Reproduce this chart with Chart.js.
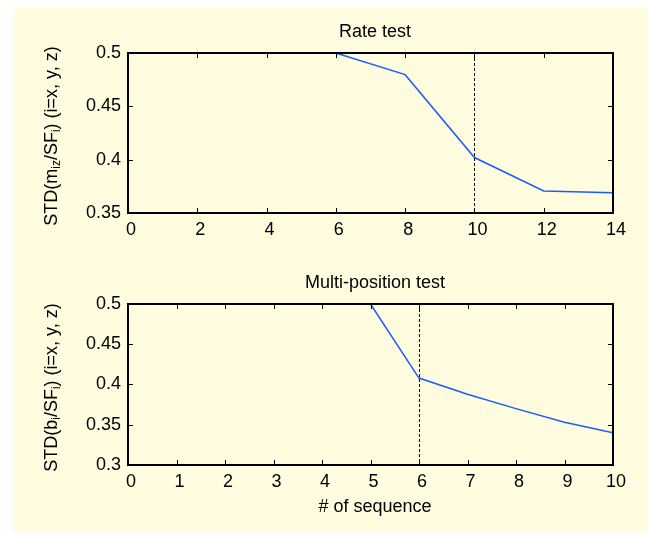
<!DOCTYPE html>
<html>
<head>
<meta charset="utf-8">
<script src="https://cdn.jsdelivr.net/npm/chart.js@4"></script>
<style>
  html, body { margin: 0; padding: 0; background: #fff; }
  body { width: 648px; height: 533px; position: relative; overflow: hidden; }
  #paper { position: absolute; left: 13px; top: 7px; right: 0; bottom: 0; background: #fffce0; }
  canvas { position: absolute; left: 0; }
  #rate { top: 0; }
  #multi { top: 260px; }
</style>
</head>
<body>
<div id="paper"></div>
<canvas id="rate" width="648" height="260"></canvas>
<canvas id="multi" width="648" height="273"></canvas>
<script>
// ---- data ----
const rateX = [6, 8, 10, 12, 14];
const rateY = [0.5, 0.4797, 0.402, 0.3706, 0.369];
const rateXTicks = [0, 2, 4, 6, 8, 10, 12, 14];
const rateYTicks = [0.35, 0.4, 0.45, 0.5];
const rateMark = 10;

const multiX = [5, 6, 7, 8, 9, 10];
const multiY = [0.5, 0.408, 0.388, 0.37, 0.353, 0.34];
const multiXTicks = [0, 1, 2, 3, 4, 5, 6, 7, 8, 9, 10];
const multiYTicks = [0.3, 0.35, 0.4, 0.45, 0.5];
const multiMark = 6;

const FONT = "'Liberation Sans', Arial, sans-serif";
const FS = 18;

// box, inward ticks, dashed marker and the texts
const framePlugin = {
  id: 'frame',
  afterDatasetsDraw(chart, args, opts) {
    const { ctx, chartArea: a, scales: { x, y } } = chart;
    ctx.save();
    ctx.strokeStyle = '#000';

    // dashed marker
    ctx.lineWidth = 1;
    ctx.setLineDash([3, 2]);
    const mx = Math.round(x.getPixelForValue(opts.mark)) + 0.5;
    ctx.beginPath(); ctx.moveTo(mx, a.top); ctx.lineTo(mx, a.bottom); ctx.stroke();
    ctx.setLineDash([]);

    // inward ticks on all four sides
    ctx.beginPath();
    x.ticks.forEach(t => {
      const px = Math.round(x.getPixelForValue(t.value)) + 0.5;
      ctx.moveTo(px, a.bottom); ctx.lineTo(px, a.bottom - 5);
      ctx.moveTo(px, a.top); ctx.lineTo(px, a.top + 5);
    });
    y.ticks.forEach(t => {
      const py = Math.round(y.getPixelForValue(t.value)) + 0.5;
      ctx.moveTo(a.left, py); ctx.lineTo(a.left + 5, py);
      ctx.moveTo(a.right, py); ctx.lineTo(a.right - 5, py);
    });
    ctx.stroke();

    ctx.lineWidth = 2;
    ctx.strokeRect(a.left, a.top, a.right - a.left, a.bottom - a.top);

    // title
    ctx.fillStyle = '#000';
    ctx.font = FS + 'px ' + FONT;
    ctx.textAlign = 'center';
    ctx.textBaseline = 'middle';
    ctx.fillText(opts.title, 375, a.top - 21);
    if (opts.xLabel) ctx.fillText(opts.xLabel, 375, a.bottom + 42);

    // y label with subscripts
    const parts = opts.yLabel;
    const subFont = '12px ' + FONT;
    const mainFont = FS + 'px ' + FONT;
    let total = 0;
    parts.forEach(p => { ctx.font = p.sub ? subFont : mainFont; total += ctx.measureText(p.t).width; });
    ctx.translate(52, (a.top + a.bottom) / 2 + 3);
    ctx.rotate(-Math.PI / 2);
    ctx.textAlign = 'left';
    let cx = -total / 2;
    parts.forEach(p => {
      ctx.font = p.sub ? subFont : mainFont;
      ctx.fillText(p.t, cx, p.sub ? 5 : 0);
      cx += ctx.measureText(p.t).width;
    });
    ctx.restore();
  }
};

function makeChart(id, xs, ys, xTicks, yTicks, pad, xH, frame) {
  return new Chart(document.getElementById(id), {
    type: 'line',
    data: {
      datasets: [{
        data: xs.map((v, i) => ({ x: v, y: ys[i] })),
        borderColor: '#1a5cff',
        borderWidth: 1.5,
        pointRadius: 0,
        tension: 0,
        fill: false
      }]
    },
    options: {
      responsive: false,
      animation: false,
      layout: { padding: pad },
      plugins: { legend: { display: false }, tooltip: { enabled: false }, frame },
      scales: {
        x: {
          type: 'linear',
          min: xTicks[0], max: xTicks[xTicks.length - 1],
          afterBuildTicks: s => { s.ticks = xTicks.map(v => ({ value: v })); },
          afterFit: s => { s.height = xH; },
          grid: { display: false, drawTicks: false },
          border: { display: false },
          ticks: { color: '#000', font: { family: FONT, size: FS }, padding: 6, labelOffset: 3,
                   autoSkip: false, maxRotation: 0, callback: v => String(v) }
        },
        y: {
          min: yTicks[0], max: yTicks[yTicks.length - 1],
          afterBuildTicks: s => { s.ticks = yTicks.map(v => ({ value: v })); },
          afterFit: s => { s.width = 128; },
          grid: { display: false, drawTicks: false },
          border: { display: false },
          ticks: { color: '#000', font: { family: FONT, size: FS }, padding: 7,
                   callback: v => String(Math.round(v * 100) / 100) }
        }
      }
    },
    plugins: [framePlugin]
  });
}

makeChart('rate', rateX, rateY, rateXTicks, rateYTicks,
  { top: 53, right: 35, left: 0, bottom: 0 }, 47,
  { mark: rateMark, title: 'Rate test',
    yLabel: [{ t: 'STD(m' }, { t: 'iz', sub: true }, { t: '/SF' }, { t: 'i', sub: true }, { t: ') (i=x, y, z)' }] });

makeChart('multi', multiX, multiY, multiXTicks, multiYTicks,
  { top: 44, right: 35, left: 0, bottom: 0 }, 68,
  { mark: multiMark, title: 'Multi-position test', xLabel: '# of sequence',
    yLabel: [{ t: 'STD(b' }, { t: 'i', sub: true }, { t: '/SF' }, { t: 'i', sub: true }, { t: ') (i=x, y, z)' }] });
</script>
</body>
</html>
